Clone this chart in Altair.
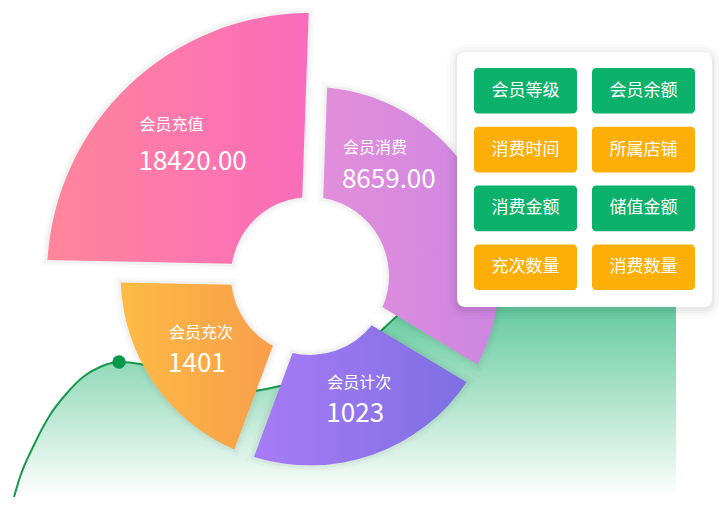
import math
import altair as alt
import pandas as pd

# ---------------- data ----------------
# rose segments, clockwise starting near 12 o'clock
seg_names = ["会员消费", "会员计次", "会员充次", "会员充值"]
seg_values = ["8659.00", "1023", "1401", "18420.00"]
seg_share = [119.0, 79.4, 70.8, 90.8]      # angular share (degrees)
seg_radius = [72, 72, 72, 100]             # relative outer radius

# background trend curve
curve_x = [0, 6, 19, 36, 53, 69, 86, 105, 126, 156, 186, 211, 241, 266,
           296, 326, 351, 368, 384, 406, 436, 486, 546, 606, 662]
curve_y = [0, 20, 50, 82, 104, 120, 130, 135, 133, 122, 109, 103, 106, 111,
           120, 135, 152, 167, 182, 202, 219, 233, 241, 245, 247]
peak_x = 105

# tag panel
tag_labels = ["会员等级", "会员余额", "消费时间", "所属店铺",
              "消费金额", "储值金额", "充次数量", "消费数量"]

# ---------------- styles ----------------
FONT = "Noto Sans CJK SC"
W, H = 711, 492
CX, CY = 302, 268
INNER = 79
R_MAX = 263
START_DEG = 2.0
GAP = 21
seg_colors = {
    "会员消费": ("#E28EDB", "#CD86E2"),
    "会员计次": ("#A77BF6", "#7E6FE3"),
    "会员充次": ("#FDBB45", "#F89E4B"),
    "会员充值": ("#FF859A", "#FA6CBC"),
}
# (dx, name dy, value dy) label offsets from the segment centre
label_offsets = {
    "会员消费": (-85, -63.5, -32),
    "会员计次": (-27, -20, 11.5),
    "会员充次": (-30, -18.5, 13),
    "会员充值": (-53, -27, 10),
}

theta_scale = alt.Scale(domain=[0, 360],
                        range=[math.radians(START_DEG), math.radians(START_DEG + 360)])
r_scale = alt.Scale(type="linear", domain=[0, 100], range=[0, R_MAX])
inner_u = INNER / R_MAX * 100

# ---------------- background area ----------------
curve_df = pd.DataFrame({"cx": curve_x, "cy": curve_y})
xs = alt.Scale(domain=[0, 662], range=[6, 668], nice=False, zero=False)
ys = alt.Scale(domain=[0, 300], range=[489, 189], nice=False)
cbase = alt.Chart(curve_df).encode(
    x=alt.X("cx:Q", scale=xs, axis=None),
    y=alt.Y("cy:Q", scale=ys, axis=None),
)
area = cbase.mark_area(
    interpolate="monotone",
    color=alt.LinearGradient(
        gradient="linear",
        stops=[alt.GradientStop(color="#52C594", offset=0),
               alt.GradientStop(color="#66CBA0", offset=0.23),
               alt.GradientStop(color="#A8E1C8", offset=0.57),
               alt.GradientStop(color="#DBF2E7", offset=0.82),
               alt.GradientStop(color="#FFFFFF", offset=1)],
        x1=0, x2=0, y1=0, y2=1),
)
line = cbase.mark_line(interpolate="monotone", color="#16994A", strokeWidth=2)
dot = cbase.transform_filter(alt.datum.cx == peak_x).mark_point(
    filled=True, size=180, color="#07994A", opacity=1)

# ---------------- rose segments ----------------
seg_df = pd.DataFrame({"name": seg_names, "value": seg_values,
                       "share": seg_share, "rad": seg_radius,
                       "order": list(range(len(seg_names)))})
seg_base = alt.Chart(seg_df).transform_window(
    end="sum(share)", frame=[None, 0], sort=[alt.SortField("order")]
).transform_calculate(
    start="datum.end - datum.share",
    mid="datum.end - datum.share / 2",
    lr=f"({inner_u} + datum.rad) / 2",
)
arc_enc = dict(
    theta=alt.Theta("start:Q", scale=theta_scale, stack=None),
    theta2=alt.Theta2("end:Q"),
    radius=alt.Radius("rad:Q", scale=r_scale),
    x=alt.value(CX), y=alt.value(CY),
)

shadow_layers = []
seg_layers = []
for name, rad in zip(seg_names, seg_radius):
    r1 = rad / 100 * R_MAX
    b = seg_base.transform_filter(alt.datum.name == name)
    # soft shadow around each segment
    for e, op in [(6, 0.018), (3, 0.03)]:
        rp = math.sqrt((INNER - e) ** 2 + (r1 + e) ** 2)
        shadow_layers.append(b.mark_arc(
            innerRadius=INNER - e, radiusOffset=e, padAngle=(GAP - 2 * e) / rp,
            color="#000000", opacity=op).encode(**arc_enc))
    pad = GAP / math.sqrt(INNER ** 2 + r1 ** 2)
    c0, c1 = seg_colors[name]
    arc = b.mark_arc(
        innerRadius=INNER, padAngle=pad,
        color=alt.LinearGradient(
            gradient="linear",
            stops=[alt.GradientStop(color=c0, offset=0),
                   alt.GradientStop(color=c1, offset=1)],
            x1=0, x2=1, y1=0, y2=0),
    ).encode(**arc_enc)
    dx, dyn, dyv = label_offsets[name]
    tenc = dict(
        theta=alt.Theta("mid:Q", scale=theta_scale, stack=None),
        radius=alt.Radius("lr:Q", scale=r_scale),
        x=alt.value(CX), y=alt.value(CY),
    )
    name_t = b.mark_text(align="left", baseline="middle", dx=dx, dy=dyn,
                         font=FONT, fontSize=16, color="white").encode(
        text="name:N", **tenc)
    val_t = b.mark_text(align="left", baseline="middle", dx=dx - 1, dy=dyv,
                        font=FONT, fontSize=26, color="white").encode(
        text="value:N", **tenc)
    seg_layers += [arc, name_t, val_t]

# ---------------- tag panel ----------------
one = alt.Chart(pd.DataFrame({"k": [0]}))
shadows = []
for e, op in [(10, 0.012), (7, 0.018), (4, 0.025), (2, 0.03)]:
    shadows.append(one.mark_rect(cornerRadius=8 + e, color="#000000", opacity=op).encode(
        x=alt.value(449 - e), x2=alt.value(704 + e),
        y=alt.value(44 - e + 2), y2=alt.value(299 + e + 2)))
panel = one.mark_rect(cornerRadius=8, color="white").encode(
    x=alt.value(449), x2=alt.value(704), y=alt.value(44), y2=alt.value(299))

tag_df = pd.DataFrame({"label": tag_labels})
tag_df["col"] = [i % 2 for i in range(len(tag_labels))]
tag_df["row"] = [i // 2 for i in range(len(tag_labels))]
tag_df["kind"] = ["g" if r % 2 == 0 else "o" for r in tag_df["row"]]
tx = alt.X("col:O", scale=alt.Scale(range=[466, 687], paddingInner=0.127, paddingOuter=0), axis=None)
ty = alt.Y("row:O", scale=alt.Scale(range=[60, 282], paddingInner=0.225, paddingOuter=0), axis=None)
tag_base = alt.Chart(tag_df).encode(x=tx, y=ty)
tags = tag_base.mark_rect(cornerRadius=4).encode(
    color=alt.Color("kind:N", scale=alt.Scale(domain=["g", "o"], range=["#0CB16B", "#FDAF08"]), legend=None),
)
tag_text = tag_base.mark_text(font=FONT, fontSize=17, color="white", baseline="middle", align="center").encode(
    text="label:N")
tag_group = alt.layer(tags, tag_text)

chart = alt.layer(
    area, line, dot, *shadow_layers, *seg_layers, *shadows, panel, tag_group
).resolve_scale(
    x="independent", y="independent", color="independent"
).properties(
    width=W, height=H, padding=0,
    autosize=alt.AutoSizeParams(type="none"),
    background="white",
).configure_view(stroke=None)

chart.save("out.html", embed_options={"renderer": "svg", "actions": False})
